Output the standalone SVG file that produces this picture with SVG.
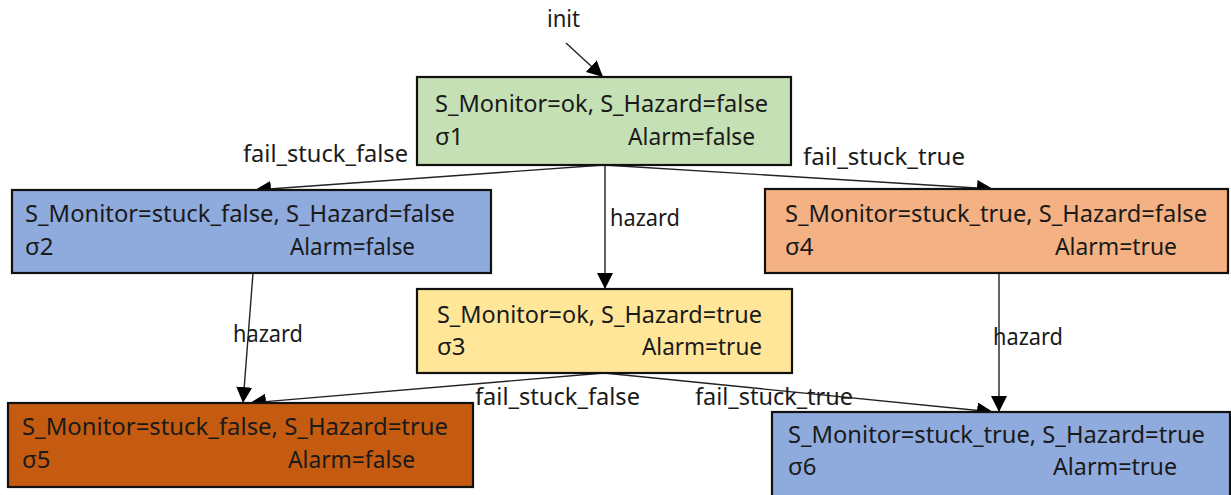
<svg xmlns="http://www.w3.org/2000/svg" width="1231" height="495" viewBox="0 0 1231 495">
<style>
.box{stroke:#111;stroke-width:2.2}
.t{font-family:"Noto Sans","Open Sans",sans-serif;font-size:24px;fill:#1a1a1a}
.lbl{font-family:"Noto Sans","Open Sans",sans-serif;font-size:24px;fill:#1a1a1a}
.e{stroke:#222;stroke-width:1.4;fill:none;marker-end:url(#ah)}
</style>
<defs>
<marker id="ah" markerUnits="userSpaceOnUse" markerWidth="18" markerHeight="16" refX="16" refY="8" orient="auto">
<path d="M0,0 L16,8 L0,16 Z" fill="#000"/>
</marker>
</defs>
<rect width="1231" height="495" fill="#fff"/>
<g id="connectors">
<line class="e" x1="566" y1="43" x2="603" y2="77"/>
<line class="e" x1="604" y1="165" x2="255" y2="190"/>
<line class="e" x1="604" y1="165" x2="993" y2="189"/>
<line class="e" x1="605" y1="165" x2="605" y2="289"/>
<line class="e" x1="253" y1="273" x2="243" y2="403"/>
<line class="e" x1="604" y1="373" x2="250" y2="403"/>
<line class="e" x1="604" y1="373" x2="993" y2="412"/>
<line class="e" x1="999" y1="273" x2="999" y2="412"/>
<text class="lbl" x="547" y="27" textLength="33" lengthAdjust="spacingAndGlyphs">init</text>
<text class="lbl" x="243" y="162" textLength="165" lengthAdjust="spacingAndGlyphs">fail_stuck_false</text>
<text class="lbl" x="803" y="165" textLength="162" lengthAdjust="spacingAndGlyphs">fail_stuck_true</text>
<text class="lbl" x="610" y="226" textLength="70" lengthAdjust="spacingAndGlyphs">hazard</text>
<text class="lbl" x="233" y="342" textLength="70" lengthAdjust="spacingAndGlyphs">hazard</text>
<text class="lbl" x="993" y="345" textLength="70" lengthAdjust="spacingAndGlyphs">hazard</text>
<text class="lbl" x="475" y="405" textLength="165" lengthAdjust="spacingAndGlyphs">fail_stuck_false</text>
<text class="lbl" x="695" y="405" textLength="158" lengthAdjust="spacingAndGlyphs">fail_stuck_true</text>
</g>
<g id="s1">
<rect class="box" x="417" y="77" width="374" height="88" fill="#C5E0B4"/>
<text class="t" x="435" y="112" textLength="333" lengthAdjust="spacingAndGlyphs">S_Monitor=ok, S_Hazard=false</text>
<text class="t" x="435" y="145">σ1</text>
<text class="t" x="628" y="145" textLength="127" lengthAdjust="spacingAndGlyphs">Alarm=false</text>
</g>
<g id="s2">
<rect class="box" x="12" y="190" width="479" height="83" fill="#8FAADC"/>
<text class="t" x="25" y="222" textLength="430" lengthAdjust="spacingAndGlyphs">S_Monitor=stuck_false, S_Hazard=false</text>
<text class="t" x="25" y="255">σ2</text>
<text class="t" x="290" y="255" textLength="125" lengthAdjust="spacingAndGlyphs">Alarm=false</text>
</g>
<g id="s4">
<rect class="box" x="765" y="189" width="463" height="84" fill="#F4B183"/>
<text class="t" x="785" y="222" textLength="422" lengthAdjust="spacingAndGlyphs">S_Monitor=stuck_true, S_Hazard=false</text>
<text class="t" x="785" y="255">σ4</text>
<text class="t" x="1055" y="255" textLength="122" lengthAdjust="spacingAndGlyphs">Alarm=true</text>
</g>
<g id="s3">
<rect class="box" x="417" y="289" width="375" height="84" fill="#FFE699"/>
<text class="t" x="437" y="323" textLength="325" lengthAdjust="spacingAndGlyphs">S_Monitor=ok, S_Hazard=true</text>
<text class="t" x="437" y="355">σ3</text>
<text class="t" x="642" y="355" textLength="120" lengthAdjust="spacingAndGlyphs">Alarm=true</text>
</g>
<g id="s5">
<rect class="box" x="8" y="403" width="465" height="84" fill="#C55A11"/>
<text class="t" x="22" y="435" textLength="426" lengthAdjust="spacingAndGlyphs">S_Monitor=stuck_false, S_Hazard=true</text>
<text class="t" x="22" y="468">σ5</text>
<text class="t" x="288" y="468" textLength="127" lengthAdjust="spacingAndGlyphs">Alarm=false</text>
</g>
<g id="s6">
<rect class="box" x="772" y="412" width="458" height="100" fill="#8FAADC"/>
<text class="t" x="788" y="443" textLength="417" lengthAdjust="spacingAndGlyphs">S_Monitor=stuck_true, S_Hazard=true</text>
<text class="t" x="788" y="475">σ6</text>
<text class="t" x="1053" y="475" textLength="124" lengthAdjust="spacingAndGlyphs">Alarm=true</text>
</g>
</svg>
